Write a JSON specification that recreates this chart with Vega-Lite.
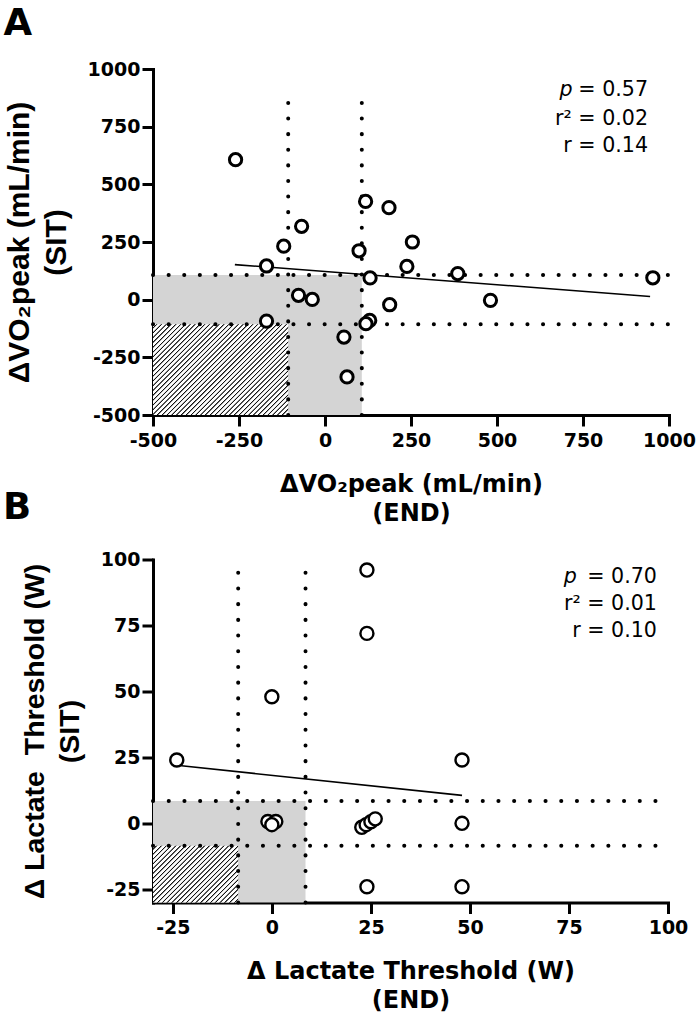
{
  "$schema": "https://vega.github.io/schema/vega-lite/v6.json",
  "background": "white",
  "padding": {"left": 3, "top": 5, "right": 0, "bottom": 0},
  "autosize": {"type": "pad"},
  "bounds": "flush",
  "spacing": 144.5,
  "config": {
    "view": {"stroke": null},
    "axis": {
      "domainColor": "#000", "domainWidth": 3, "domainCap": "square",
      "tickColor": "#000", "tickWidth": 3, "tickSize": 11,
      "labelFont": "DejaVu Sans", "labelFontWeight": "bold", "labelFontSize": 19, "labelColor": "#000",
      "labelFlush": false, "labelOverlap": false, "labelBound": false,
      "labelExpr": "'' + datum.value",
      "grid": false, "titleColor": "#000", "titleFontWeight": "bold"
    },
    "axisX": {"labelPadding": 5, "titleFont": "DejaVu Sans", "titleFontSize": 24, "titleLineHeight": 29, "titlePadding": 22},
    "axisY": {"labelPadding": 2, "titleFont": "Liberation Sans", "titlePadding": 16},
    "title": {"font": "DejaVu Sans", "fontWeight": "bold", "fontSize": 37, "color": "#000", "anchor": "start", "frame": "group"}
  },
  "vconcat": [
    {
      "width": 516, "height": 346,
      "title": {"text": "A", "dx": -149.5, "offset": 17},
      "encoding": {
        "x": {"field": "x", "type": "quantitative", "scale": {"domain": [-500, 1000], "nice": false, "zero": false},
              "axis": {"values": [-500, -250, 0, 250, 500, 750, 1000], "title": ["ΔVO₂peak (mL/min)", "(END)"]}},
        "y": {"field": "y", "type": "quantitative", "scale": {"domain": [-500, 1000], "nice": false, "zero": false},
              "axis": {"values": [-500, -250, 0, 250, 500, 750, 1000], "title": ["ΔVO₂peak (mL/min)\u00a0\u00a0\u00a0\u00a0\u00a0", "(SIT)\u00a0\u00a0"], "titleFontSize": 30, "titleLineHeight": 37}}
      },
      "layer": [
        {
          "data": {"values": [{"x": -500, "x2": 107, "y": -500, "y2": 107}]},
          "mark": {"type": "rect", "fill": "#d4d4d4"},
          "encoding": {"x2": {"field": "x2"}, "y2": {"field": "y2"}}
        },
        {
          "data": {"values": [{"x": -500, "x2": -107, "y": -500, "y2": -107}]},
          "mark": {"type": "rect", "fill": {"gradient": "linear", "x1": 0, "y1": 0, "x2": 1.2268, "y2": 0.8225, "stops": [
            {"offset":0,"color":"#fff"},{"offset":0.011,"color":"#fff"},{"offset":0.0135,"color":"#111"},{"offset":0.016,"color":"#111"},
            {"offset":0.02,"color":"#fff"},{"offset":0.031,"color":"#fff"},{"offset":0.0335,"color":"#111"},{"offset":0.036,"color":"#111"},
            {"offset":0.04,"color":"#fff"},{"offset":0.051,"color":"#fff"},{"offset":0.0535,"color":"#111"},{"offset":0.056,"color":"#111"},
            {"offset":0.06,"color":"#fff"},{"offset":0.071,"color":"#fff"},{"offset":0.0735,"color":"#111"},{"offset":0.076,"color":"#111"},
            {"offset":0.08,"color":"#fff"},{"offset":0.091,"color":"#fff"},{"offset":0.0935,"color":"#111"},{"offset":0.096,"color":"#111"},
            {"offset":0.1,"color":"#fff"},{"offset":0.111,"color":"#fff"},{"offset":0.1135,"color":"#111"},{"offset":0.116,"color":"#111"},
            {"offset":0.12,"color":"#fff"},{"offset":0.131,"color":"#fff"},{"offset":0.1335,"color":"#111"},{"offset":0.136,"color":"#111"},
            {"offset":0.14,"color":"#fff"},{"offset":0.151,"color":"#fff"},{"offset":0.1535,"color":"#111"},{"offset":0.156,"color":"#111"},
            {"offset":0.16,"color":"#fff"},{"offset":0.171,"color":"#fff"},{"offset":0.1735,"color":"#111"},{"offset":0.176,"color":"#111"},
            {"offset":0.18,"color":"#fff"},{"offset":0.191,"color":"#fff"},{"offset":0.1935,"color":"#111"},{"offset":0.196,"color":"#111"},
            {"offset":0.2,"color":"#fff"},{"offset":0.211,"color":"#fff"},{"offset":0.2135,"color":"#111"},{"offset":0.216,"color":"#111"},
            {"offset":0.22,"color":"#fff"},{"offset":0.231,"color":"#fff"},{"offset":0.2335,"color":"#111"},{"offset":0.236,"color":"#111"},
            {"offset":0.24,"color":"#fff"},{"offset":0.251,"color":"#fff"},{"offset":0.2535,"color":"#111"},{"offset":0.256,"color":"#111"},
            {"offset":0.26,"color":"#fff"},{"offset":0.271,"color":"#fff"},{"offset":0.2735,"color":"#111"},{"offset":0.276,"color":"#111"},
            {"offset":0.28,"color":"#fff"},{"offset":0.291,"color":"#fff"},{"offset":0.2935,"color":"#111"},{"offset":0.296,"color":"#111"},
            {"offset":0.3,"color":"#fff"},{"offset":0.311,"color":"#fff"},{"offset":0.3135,"color":"#111"},{"offset":0.316,"color":"#111"},
            {"offset":0.32,"color":"#fff"},{"offset":0.331,"color":"#fff"},{"offset":0.3335,"color":"#111"},{"offset":0.336,"color":"#111"},
            {"offset":0.34,"color":"#fff"},{"offset":0.351,"color":"#fff"},{"offset":0.3535,"color":"#111"},{"offset":0.356,"color":"#111"},
            {"offset":0.36,"color":"#fff"},{"offset":0.371,"color":"#fff"},{"offset":0.3735,"color":"#111"},{"offset":0.376,"color":"#111"},
            {"offset":0.38,"color":"#fff"},{"offset":0.391,"color":"#fff"},{"offset":0.3935,"color":"#111"},{"offset":0.396,"color":"#111"},
            {"offset":0.4,"color":"#fff"},{"offset":0.411,"color":"#fff"},{"offset":0.4135,"color":"#111"},{"offset":0.416,"color":"#111"},
            {"offset":0.42,"color":"#fff"},{"offset":0.431,"color":"#fff"},{"offset":0.4335,"color":"#111"},{"offset":0.436,"color":"#111"},
            {"offset":0.44,"color":"#fff"},{"offset":0.451,"color":"#fff"},{"offset":0.4535,"color":"#111"},{"offset":0.456,"color":"#111"},
            {"offset":0.46,"color":"#fff"},{"offset":0.471,"color":"#fff"},{"offset":0.4735,"color":"#111"},{"offset":0.476,"color":"#111"},
            {"offset":0.48,"color":"#fff"},{"offset":0.491,"color":"#fff"},{"offset":0.4935,"color":"#111"},{"offset":0.496,"color":"#111"},
            {"offset":0.5,"color":"#fff"},{"offset":0.511,"color":"#fff"},{"offset":0.5135,"color":"#111"},{"offset":0.516,"color":"#111"},
            {"offset":0.52,"color":"#fff"},{"offset":0.531,"color":"#fff"},{"offset":0.5335,"color":"#111"},{"offset":0.536,"color":"#111"},
            {"offset":0.54,"color":"#fff"},{"offset":0.551,"color":"#fff"},{"offset":0.5535,"color":"#111"},{"offset":0.556,"color":"#111"},
            {"offset":0.56,"color":"#fff"},{"offset":0.571,"color":"#fff"},{"offset":0.5735,"color":"#111"},{"offset":0.576,"color":"#111"},
            {"offset":0.58,"color":"#fff"},{"offset":0.591,"color":"#fff"},{"offset":0.5935,"color":"#111"},{"offset":0.596,"color":"#111"},
            {"offset":0.6,"color":"#fff"},{"offset":0.611,"color":"#fff"},{"offset":0.6135,"color":"#111"},{"offset":0.616,"color":"#111"},
            {"offset":0.62,"color":"#fff"},{"offset":0.631,"color":"#fff"},{"offset":0.6335,"color":"#111"},{"offset":0.636,"color":"#111"},
            {"offset":0.64,"color":"#fff"},{"offset":0.651,"color":"#fff"},{"offset":0.6535,"color":"#111"},{"offset":0.656,"color":"#111"},
            {"offset":0.66,"color":"#fff"},{"offset":0.671,"color":"#fff"},{"offset":0.6735,"color":"#111"},{"offset":0.676,"color":"#111"},
            {"offset":0.68,"color":"#fff"},{"offset":0.691,"color":"#fff"},{"offset":0.6935,"color":"#111"},{"offset":0.696,"color":"#111"},
            {"offset":0.7,"color":"#fff"},{"offset":0.711,"color":"#fff"},{"offset":0.7135,"color":"#111"},{"offset":0.716,"color":"#111"},
            {"offset":0.72,"color":"#fff"},{"offset":0.731,"color":"#fff"},{"offset":0.7335,"color":"#111"},{"offset":0.736,"color":"#111"},
            {"offset":0.74,"color":"#fff"},{"offset":0.751,"color":"#fff"},{"offset":0.7535,"color":"#111"},{"offset":0.756,"color":"#111"},
            {"offset":0.76,"color":"#fff"},{"offset":0.771,"color":"#fff"},{"offset":0.7735,"color":"#111"},{"offset":0.776,"color":"#111"},
            {"offset":0.78,"color":"#fff"},{"offset":0.791,"color":"#fff"},{"offset":0.7935,"color":"#111"},{"offset":0.796,"color":"#111"},
            {"offset":0.8,"color":"#fff"},{"offset":0.811,"color":"#fff"},{"offset":0.8135,"color":"#111"},{"offset":0.816,"color":"#111"},
            {"offset":0.82,"color":"#fff"},{"offset":0.831,"color":"#fff"},{"offset":0.8335,"color":"#111"},{"offset":0.836,"color":"#111"},
            {"offset":0.84,"color":"#fff"},{"offset":0.851,"color":"#fff"},{"offset":0.8535,"color":"#111"},{"offset":0.856,"color":"#111"},
            {"offset":0.86,"color":"#fff"},{"offset":0.871,"color":"#fff"},{"offset":0.8735,"color":"#111"},{"offset":0.876,"color":"#111"},
            {"offset":0.88,"color":"#fff"},{"offset":0.891,"color":"#fff"},{"offset":0.8935,"color":"#111"},{"offset":0.896,"color":"#111"},
            {"offset":0.9,"color":"#fff"},{"offset":0.911,"color":"#fff"},{"offset":0.9135,"color":"#111"},{"offset":0.916,"color":"#111"},
            {"offset":0.92,"color":"#fff"},{"offset":0.931,"color":"#fff"},{"offset":0.9335,"color":"#111"},{"offset":0.936,"color":"#111"},
            {"offset":0.94,"color":"#fff"},{"offset":0.951,"color":"#fff"},{"offset":0.9535,"color":"#111"},{"offset":0.956,"color":"#111"},
            {"offset":0.96,"color":"#fff"},{"offset":0.971,"color":"#fff"},{"offset":0.9735,"color":"#111"},{"offset":0.976,"color":"#111"},
            {"offset":0.98,"color":"#fff"},{"offset":0.991,"color":"#fff"},{"offset":0.9935,"color":"#111"},{"offset":0.996,"color":"#111"},
            {"offset":1,"color":"#fff"}
          ]}},
          "encoding": {"x2": {"field": "x2"}, "y2": {"field": "y2"}}
        },
        {
          "data": {"values": [
            {"x": -107, "x2": -107, "y": -500, "y2": 870},
            {"x": 107, "x2": 107, "y": -500, "y2": 870},
            {"x": -500, "x2": 1000, "y": -107, "y2": -107},
            {"x": -500, "x2": 1000, "y": 107, "y2": 107}
          ]},
          "mark": {"type": "rule", "color": "#000", "strokeWidth": 4, "strokeCap": "round", "strokeDash": [0.1, 15.5]},
          "encoding": {"x2": {"field": "x2"}, "y2": {"field": "y2"}}
        },
        {
          "data": {"values": [{"x": -262, "y": 152}, {"x": 945, "y": 14}]},
          "mark": {"type": "line", "color": "#000", "strokeWidth": 1.6}
        },
        {
          "data": {"values": [
            {"x": -260, "y": 607}, {"x": 118, "y": 426}, {"x": 186, "y": 399}, {"x": -68, "y": 318},
            {"x": 254, "y": 250}, {"x": -120, "y": 232}, {"x": 99, "y": 212}, {"x": 238, "y": 144},
            {"x": -170, "y": 146}, {"x": 131, "y": 94}, {"x": 386, "y": 113}, {"x": 953, "y": 95},
            {"x": -77, "y": 19}, {"x": -37, "y": 1}, {"x": 481, "y": -3}, {"x": 188, "y": -22},
            {"x": -170, "y": -93}, {"x": 130, "y": -90}, {"x": 119, "y": -104}, {"x": 55, "y": -162},
            {"x": 64, "y": -335}
          ]},
          "mark": {"type": "point", "shape": "circle", "filled": false, "fill": "#fff", "fillOpacity": 1, "stroke": "#000", "strokeWidth": 3, "size": 150, "opacity": 1}
        },
        {
          "data": {"values": [
            {"x": 939, "y": 907, "t": "= 0.57"},
            {"x": 939, "y": 784, "t": "r² = 0.02"},
            {"x": 939, "y": 665, "t": "r = 0.14"}
          ]},
          "mark": {"type": "text", "align": "right", "baseline": "middle", "font": "DejaVu Sans", "fontSize": 20.6, "color": "#000"},
          "encoding": {"text": {"field": "t"}}
        },
        {
          "data": {"values": [{"x": 720, "y": 907, "t": "p"}]},
          "mark": {"type": "text", "align": "right", "baseline": "middle", "font": "DejaVu Sans", "fontStyle": "italic", "fontSize": 20.6, "color": "#000"},
          "encoding": {"text": {"field": "t"}}
        }
      ]
    },
    {
      "width": 515, "height": 343,
      "title": {"text": "B", "dx": -150, "offset": 24},
      "encoding": {
        "x": {"field": "x", "type": "quantitative", "scale": {"domain": [-30, 100], "nice": false, "zero": false},
              "axis": {"values": [-25, 0, 25, 50, 75, 100], "title": ["Δ Lactate Threshold (W)", "(END)"]}},
        "y": {"field": "y", "type": "quantitative", "scale": {"domain": [-30, 100], "nice": false, "zero": false},
              "axis": {"values": [-25, 0, 25, 50, 75, 100], "title": ["Δ Lactate\u00a0\u00a0Threshold (W)", "(SIT)"], "titleFontSize": 28.5, "titleLineHeight": 35}}
      },
      "layer": [
        {
          "data": {"values": [{"x": -30, "x2": 8.5, "y": -30, "y2": 8.5}]},
          "mark": {"type": "rect", "fill": "#d4d4d4"},
          "encoding": {"x2": {"field": "x2"}, "y2": {"field": "y2"}}
        },
        {
          "data": {"values": [{"x": -30, "x2": -8.5, "y": -30, "y2": -8.5}]},
          "mark": {"type": "rect", "fill": {"gradient": "linear", "x1": 0, "y1": 0, "x2": 1.9554, "y2": 1.3024, "stops": [
            {"offset":0,"color":"#fff"},{"offset":0.011,"color":"#fff"},{"offset":0.0135,"color":"#111"},{"offset":0.016,"color":"#111"},
            {"offset":0.02,"color":"#fff"},{"offset":0.031,"color":"#fff"},{"offset":0.0335,"color":"#111"},{"offset":0.036,"color":"#111"},
            {"offset":0.04,"color":"#fff"},{"offset":0.051,"color":"#fff"},{"offset":0.0535,"color":"#111"},{"offset":0.056,"color":"#111"},
            {"offset":0.06,"color":"#fff"},{"offset":0.071,"color":"#fff"},{"offset":0.0735,"color":"#111"},{"offset":0.076,"color":"#111"},
            {"offset":0.08,"color":"#fff"},{"offset":0.091,"color":"#fff"},{"offset":0.0935,"color":"#111"},{"offset":0.096,"color":"#111"},
            {"offset":0.1,"color":"#fff"},{"offset":0.111,"color":"#fff"},{"offset":0.1135,"color":"#111"},{"offset":0.116,"color":"#111"},
            {"offset":0.12,"color":"#fff"},{"offset":0.131,"color":"#fff"},{"offset":0.1335,"color":"#111"},{"offset":0.136,"color":"#111"},
            {"offset":0.14,"color":"#fff"},{"offset":0.151,"color":"#fff"},{"offset":0.1535,"color":"#111"},{"offset":0.156,"color":"#111"},
            {"offset":0.16,"color":"#fff"},{"offset":0.171,"color":"#fff"},{"offset":0.1735,"color":"#111"},{"offset":0.176,"color":"#111"},
            {"offset":0.18,"color":"#fff"},{"offset":0.191,"color":"#fff"},{"offset":0.1935,"color":"#111"},{"offset":0.196,"color":"#111"},
            {"offset":0.2,"color":"#fff"},{"offset":0.211,"color":"#fff"},{"offset":0.2135,"color":"#111"},{"offset":0.216,"color":"#111"},
            {"offset":0.22,"color":"#fff"},{"offset":0.231,"color":"#fff"},{"offset":0.2335,"color":"#111"},{"offset":0.236,"color":"#111"},
            {"offset":0.24,"color":"#fff"},{"offset":0.251,"color":"#fff"},{"offset":0.2535,"color":"#111"},{"offset":0.256,"color":"#111"},
            {"offset":0.26,"color":"#fff"},{"offset":0.271,"color":"#fff"},{"offset":0.2735,"color":"#111"},{"offset":0.276,"color":"#111"},
            {"offset":0.28,"color":"#fff"},{"offset":0.291,"color":"#fff"},{"offset":0.2935,"color":"#111"},{"offset":0.296,"color":"#111"},
            {"offset":0.3,"color":"#fff"},{"offset":0.311,"color":"#fff"},{"offset":0.3135,"color":"#111"},{"offset":0.316,"color":"#111"},
            {"offset":0.32,"color":"#fff"},{"offset":0.331,"color":"#fff"},{"offset":0.3335,"color":"#111"},{"offset":0.336,"color":"#111"},
            {"offset":0.34,"color":"#fff"},{"offset":0.351,"color":"#fff"},{"offset":0.3535,"color":"#111"},{"offset":0.356,"color":"#111"},
            {"offset":0.36,"color":"#fff"},{"offset":0.371,"color":"#fff"},{"offset":0.3735,"color":"#111"},{"offset":0.376,"color":"#111"},
            {"offset":0.38,"color":"#fff"},{"offset":0.391,"color":"#fff"},{"offset":0.3935,"color":"#111"},{"offset":0.396,"color":"#111"},
            {"offset":0.4,"color":"#fff"},{"offset":0.411,"color":"#fff"},{"offset":0.4135,"color":"#111"},{"offset":0.416,"color":"#111"},
            {"offset":0.42,"color":"#fff"},{"offset":0.431,"color":"#fff"},{"offset":0.4335,"color":"#111"},{"offset":0.436,"color":"#111"},
            {"offset":0.44,"color":"#fff"},{"offset":0.451,"color":"#fff"},{"offset":0.4535,"color":"#111"},{"offset":0.456,"color":"#111"},
            {"offset":0.46,"color":"#fff"},{"offset":0.471,"color":"#fff"},{"offset":0.4735,"color":"#111"},{"offset":0.476,"color":"#111"},
            {"offset":0.48,"color":"#fff"},{"offset":0.491,"color":"#fff"},{"offset":0.4935,"color":"#111"},{"offset":0.496,"color":"#111"},
            {"offset":0.5,"color":"#fff"},{"offset":0.511,"color":"#fff"},{"offset":0.5135,"color":"#111"},{"offset":0.516,"color":"#111"},
            {"offset":0.52,"color":"#fff"},{"offset":0.531,"color":"#fff"},{"offset":0.5335,"color":"#111"},{"offset":0.536,"color":"#111"},
            {"offset":0.54,"color":"#fff"},{"offset":0.551,"color":"#fff"},{"offset":0.5535,"color":"#111"},{"offset":0.556,"color":"#111"},
            {"offset":0.56,"color":"#fff"},{"offset":0.571,"color":"#fff"},{"offset":0.5735,"color":"#111"},{"offset":0.576,"color":"#111"},
            {"offset":0.58,"color":"#fff"},{"offset":0.591,"color":"#fff"},{"offset":0.5935,"color":"#111"},{"offset":0.596,"color":"#111"},
            {"offset":0.6,"color":"#fff"},{"offset":0.611,"color":"#fff"},{"offset":0.6135,"color":"#111"},{"offset":0.616,"color":"#111"},
            {"offset":0.62,"color":"#fff"},{"offset":0.631,"color":"#fff"},{"offset":0.6335,"color":"#111"},{"offset":0.636,"color":"#111"},
            {"offset":0.64,"color":"#fff"},{"offset":0.651,"color":"#fff"},{"offset":0.6535,"color":"#111"},{"offset":0.656,"color":"#111"},
            {"offset":0.66,"color":"#fff"},{"offset":0.671,"color":"#fff"},{"offset":0.6735,"color":"#111"},{"offset":0.676,"color":"#111"},
            {"offset":0.68,"color":"#fff"},{"offset":0.691,"color":"#fff"},{"offset":0.6935,"color":"#111"},{"offset":0.696,"color":"#111"},
            {"offset":0.7,"color":"#fff"},{"offset":0.711,"color":"#fff"},{"offset":0.7135,"color":"#111"},{"offset":0.716,"color":"#111"},
            {"offset":0.72,"color":"#fff"},{"offset":0.731,"color":"#fff"},{"offset":0.7335,"color":"#111"},{"offset":0.736,"color":"#111"},
            {"offset":0.74,"color":"#fff"},{"offset":0.751,"color":"#fff"},{"offset":0.7535,"color":"#111"},{"offset":0.756,"color":"#111"},
            {"offset":0.76,"color":"#fff"},{"offset":0.771,"color":"#fff"},{"offset":0.7735,"color":"#111"},{"offset":0.776,"color":"#111"},
            {"offset":0.78,"color":"#fff"},{"offset":0.791,"color":"#fff"},{"offset":0.7935,"color":"#111"},{"offset":0.796,"color":"#111"},
            {"offset":0.8,"color":"#fff"},{"offset":0.811,"color":"#fff"},{"offset":0.8135,"color":"#111"},{"offset":0.816,"color":"#111"},
            {"offset":0.82,"color":"#fff"},{"offset":0.831,"color":"#fff"},{"offset":0.8335,"color":"#111"},{"offset":0.836,"color":"#111"},
            {"offset":0.84,"color":"#fff"},{"offset":0.851,"color":"#fff"},{"offset":0.8535,"color":"#111"},{"offset":0.856,"color":"#111"},
            {"offset":0.86,"color":"#fff"},{"offset":0.871,"color":"#fff"},{"offset":0.8735,"color":"#111"},{"offset":0.876,"color":"#111"},
            {"offset":0.88,"color":"#fff"},{"offset":0.891,"color":"#fff"},{"offset":0.8935,"color":"#111"},{"offset":0.896,"color":"#111"},
            {"offset":0.9,"color":"#fff"},{"offset":0.911,"color":"#fff"},{"offset":0.9135,"color":"#111"},{"offset":0.916,"color":"#111"},
            {"offset":0.92,"color":"#fff"},{"offset":0.931,"color":"#fff"},{"offset":0.9335,"color":"#111"},{"offset":0.936,"color":"#111"},
            {"offset":0.94,"color":"#fff"},{"offset":0.951,"color":"#fff"},{"offset":0.9535,"color":"#111"},{"offset":0.956,"color":"#111"},
            {"offset":0.96,"color":"#fff"},{"offset":0.971,"color":"#fff"},{"offset":0.9735,"color":"#111"},{"offset":0.976,"color":"#111"},
            {"offset":0.98,"color":"#fff"},{"offset":0.991,"color":"#fff"},{"offset":0.9935,"color":"#111"},{"offset":0.996,"color":"#111"},
            {"offset":1,"color":"#fff"}
          ]}},
          "encoding": {"x2": {"field": "x2"}, "y2": {"field": "y2"}}
        },
        {
          "data": {"values": [
            {"x": -8.5, "x2": -8.5, "y": -30, "y2": 100},
            {"x": 8.5, "x2": 8.5, "y": -30, "y2": 100},
            {"x": -30, "x2": 100, "y": -8.5, "y2": -8.5},
            {"x": -30, "x2": 100, "y": 8.5, "y2": 8.5}
          ]},
          "mark": {"type": "rule", "color": "#000", "strokeWidth": 4, "strokeCap": "round", "strokeDash": [0.1, 15.6]},
          "encoding": {"x2": {"field": "x2"}, "y2": {"field": "y2"}}
        },
        {
          "data": {"values": [{"x": -24, "y": 22}, {"x": 48, "y": 10.6}]},
          "mark": {"type": "line", "color": "#000", "strokeWidth": 1.6}
        },
        {
          "data": {"values": [
            {"x": 24, "y": 96}, {"x": 24, "y": 72}, {"x": 0, "y": 48}, {"x": -24, "y": 24},
            {"x": 48, "y": 24}, {"x": 48, "y": 0}, {"x": 24, "y": -24}, {"x": 48, "y": -24},
            {"x": -1, "y": 0.7}, {"x": 1, "y": 0.7}, {"x": 0, "y": -0.5},
            {"x": 22.7, "y": -1.5}, {"x": 23.8, "y": -0.5}, {"x": 25, "y": 0.6}, {"x": 26.1, "y": 1.7}
          ]},
          "mark": {"type": "point", "shape": "circle", "filled": false, "fill": "#fff", "fillOpacity": 1, "stroke": "#000", "strokeWidth": 2.4, "size": 170, "opacity": 1}
        },
        {
          "data": {"values": [
            {"x": 97.2, "y": 93.4, "t": "= 0.70"},
            {"x": 97.2, "y": 83.2, "t": "r² = 0.01"},
            {"x": 97.2, "y": 72.9, "t": "r = 0.10"}
          ]},
          "mark": {"type": "text", "align": "right", "baseline": "middle", "font": "DejaVu Sans", "fontSize": 20.6, "color": "#000"},
          "encoding": {"text": {"field": "t"}}
        },
        {
          "data": {"values": [{"x": 77, "y": 93.4, "t": "p"}]},
          "mark": {"type": "text", "align": "right", "baseline": "middle", "font": "DejaVu Sans", "fontStyle": "italic", "fontSize": 20.6, "color": "#000"},
          "encoding": {"text": {"field": "t"}}
        }
      ]
    }
  ]
}
